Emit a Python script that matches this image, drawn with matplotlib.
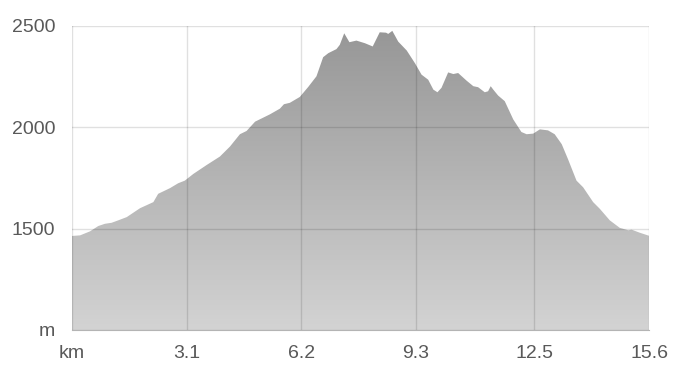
import numpy as np
import matplotlib
matplotlib.use("Agg")
import matplotlib.pyplot as plt
from matplotlib.colors import LinearSegmentedColormap

plt.rcParams["font.family"] = ["Liberation Sans", "DejaVu Sans"]

# elevation profile (km, m)
distance_km = [
    0.0, 0.22, 0.49, 0.71, 0.89, 1.07, 1.25, 1.48, 1.84, 2.2, 2.33, 2.65,
    2.87, 3.05, 3.28, 3.64, 4.0, 4.27, 4.54, 4.72, 4.95, 5.35, 5.62, 5.73,
    5.89, 6.16, 6.39, 6.61, 6.79, 6.93, 7.15, 7.24, 7.36, 7.5, 7.69, 7.92,
    8.13, 8.32, 8.49, 8.55, 8.66, 8.82, 9.05, 9.27, 9.45, 9.63, 9.77, 9.88,
    9.99, 10.17, 10.31, 10.44, 10.67, 10.85, 10.98, 11.16, 11.25, 11.32,
    11.39, 11.52, 11.7, 11.93, 12.15, 12.29, 12.47, 12.65, 12.87, 13.05,
    13.24, 13.41, 13.64, 13.82, 14.09, 14.27, 14.54, 14.81, 15.04, 15.13,
    15.35, 15.6,
]
elevation_m = [
    1464, 1467, 1487, 1513, 1524, 1529, 1541, 1557, 1601, 1631, 1672, 1700,
    1724, 1737, 1770, 1814, 1856, 1905, 1966, 1982, 2028, 2064, 2092, 2114,
    2121, 2150, 2200, 2252, 2346, 2366, 2386, 2407, 2464, 2420, 2428, 2415,
    2399, 2469, 2467, 2461, 2476, 2423, 2379, 2317, 2260, 2235, 2186, 2173,
    2195, 2271, 2263, 2268, 2230, 2203, 2198, 2173, 2178, 2203, 2186, 2157,
    2129, 2039, 1977, 1966, 1969, 1990, 1985, 1966, 1917, 1843, 1737, 1704,
    1631, 1598, 1541, 1504, 1492, 1495, 1480, 1465,
]

x_ticks = [0, 3.1, 6.2, 9.3, 12.5, 15.6]
x_labels = ["km", "3.1", "6.2", "9.3", "12.5", "15.6"]
y_ticks = [1000, 1500, 2000, 2500]
y_labels = ["m", "1500", "2000", "2500"]

fig = plt.figure(figsize=(7.0, 3.76), dpi=100)
ax = fig.add_axes([72 / 700, 46 / 376, 577 / 700, 304 / 376])
ax.set_xlim(0, 15.6)
ax.set_ylim(1000, 2500)

# gradient fill clipped to the profile
poly = ax.fill_between(distance_km, elevation_m, 1000, color="none", lw=0)
cmap = LinearSegmentedColormap.from_list("elev", ["#d3d3d3", "#969696"])
grad = np.linspace(0, 1, 256).reshape(-1, 1)
img = ax.imshow(grad, cmap=cmap, origin="lower", aspect="auto",
                extent=[0, 15.6, 1000, 2500], zorder=1)
img.set_clip_path(poly.get_paths()[0], transform=ax.transData)

ax.set_xticks(x_ticks)
ax.set_xticklabels(x_labels)
ax.set_yticks(y_ticks)
ax.set_yticklabels(y_labels)
ax.tick_params(length=0, labelsize=14, labelcolor="#595959")
ax.tick_params(axis="x", pad=11)
ax.tick_params(axis="y", pad=12)

ax.grid(True, color="black", alpha=0.12, lw=1, zorder=2)
ax.set_axisbelow(False)
for side in ["top", "right", "left"]:
    ax.spines[side].set_visible(False)
ax.spines["bottom"].set_color("#b4b4b4")
ax.spines["bottom"].set_zorder(3)

fig.savefig("out.png", dpi=100)
